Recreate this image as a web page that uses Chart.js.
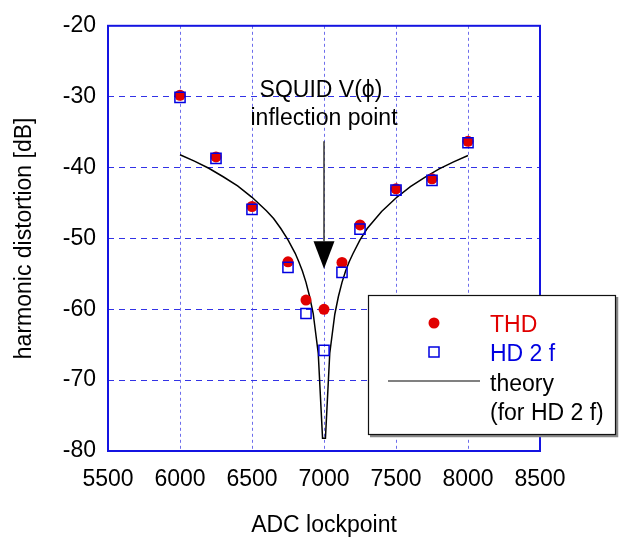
<!DOCTYPE html>
<html>
<head>
<meta charset="utf-8">
<script src="https://cdn.jsdelivr.net/npm/chart.js@4"></script>
<style>
    html, body { margin: 0; padding: 0; background: #fff; }
</style>
</head>
<body>
<canvas id="chart" width="619" height="544"></canvas>
<script>
// measured points
const adcLockpoint = [6000, 6250, 6500, 6750, 6875, 7000, 7125, 7250, 7500, 7750, 8000];
const thdValues = [-29.8, -38.5, -45.5, -53.3, -58.7, -60.0, -53.4, -48.1, -43.0, -41.6, -36.3];
const hd2fValues = [-30.1, -38.7, -45.9, -54.1, -60.6, -65.8, -54.8, -48.7, -43.2, -41.8, -36.5];

// theory curve (for HD 2 f)
const theoryX = [6000, 6100, 6200, 6300, 6400, 6500, 6600, 6650, 6700, 6750, 6800, 6825, 6850, 6875, 6900, 6925, 6960, 6990,
                 7010, 7040, 7075, 7100, 7125, 7150, 7175, 7200, 7250, 7300, 7400, 7500, 7600, 7700, 7800, 7900, 8000];
const theoryY = [-38.2, -39.1, -40.1, -41.3, -42.6, -44.2, -46.1, -47.2, -48.6, -50.2, -52.1, -53.3, -54.6, -56.2, -58.2, -60.6, -66.2, -78.2,
                 -78.2, -66.2, -60.7, -58.2, -56.2, -54.6, -53.3, -52.2, -50.2, -48.6, -46.2, -44.3, -42.7, -41.4, -40.2, -39.2, -38.3];

const xTicks = [5500, 6000, 6500, 7000, 7500, 8000, 8500];
const yTicks = [-80, -70, -60, -50, -40, -30, -20];

const FONT = 'Arial, "Liberation Sans", Helvetica, sans-serif';
const RED = 'rgb(225, 0, 0)';
const BLUE = 'rgb(0, 0, 225)';

const toPoints = (xs, ys) => xs.map((x, i) => ({ x: x, y: ys[i] }));

// frame, arrow note and boxed legend
const squidNotes = {
    id: 'squidNotes',
    afterDraw(chart) {
        const { ctx, chartArea: a, scales: { x, y } } = chart;
        ctx.save();

        // plot frame
        ctx.strokeStyle = 'rgb(20, 20, 225)';
        ctx.lineWidth = 2;
        ctx.strokeRect(a.left, a.top, a.right - a.left, a.bottom - a.top);

        // inflection point note
        const cx = x.getPixelForValue(7000);
        ctx.fillStyle = '#000';
        ctx.font = '23px ' + FONT;
        ctx.textAlign = 'center';
        ctx.textBaseline = 'alphabetic';
        ctx.fillText('SQUID V(\u03D5)', cx - 3, 97);
        ctx.fillText('inflection point', cx, 125);

        const lineTop = y.getPixelForValue(-36.3);
        const headTop = y.getPixelForValue(-50.4);
        const headTip = y.getPixelForValue(-54.3);
        ctx.strokeStyle = '#333';
        ctx.lineWidth = 1.5;
        ctx.beginPath();
        ctx.moveTo(cx, lineTop);
        ctx.lineTo(cx, headTop);
        ctx.stroke();
        ctx.beginPath();
        ctx.moveTo(cx - 10.5, headTop);
        ctx.lineTo(cx + 10.5, headTop);
        ctx.lineTo(cx, headTip);
        ctx.closePath();
        ctx.fill();

        // legend box
        const bx = 368, by = 295, bw = 248, bh = 140;
        ctx.fillStyle = '#fff';
        ctx.fillRect(bx, by, bw, bh);
        ctx.strokeStyle = '#888';
        ctx.lineWidth = 2.5;
        ctx.beginPath();
        ctx.moveTo(bx + 2, by + bh + 1);
        ctx.lineTo(bx + bw + 1, by + bh + 1);
        ctx.lineTo(bx + bw + 1, by + 2);
        ctx.stroke();
        ctx.strokeStyle = '#111';
        ctx.lineWidth = 1.2;
        ctx.strokeRect(bx + 0.5, by + 0.5, bw - 1, bh - 1);

        ctx.fillStyle = RED;
        ctx.beginPath();
        ctx.arc(434, 323, 5.5, 0, Math.PI * 2);
        ctx.fill();

        ctx.strokeStyle = BLUE;
        ctx.lineWidth = 1.5;
        ctx.strokeRect(429, 347, 10, 10);

        ctx.strokeStyle = 'rgb(128, 128, 128)';
        ctx.lineWidth = 2;
        ctx.beginPath();
        ctx.moveTo(388, 381);
        ctx.lineTo(480, 381);
        ctx.stroke();

        ctx.textAlign = 'left';
        ctx.fillStyle = RED;
        ctx.fillText('THD', 490, 332);
        ctx.fillStyle = BLUE;
        ctx.fillText('HD 2 f', 490, 361);
        ctx.fillStyle = '#000';
        ctx.fillText('theory', 490, 391);
        ctx.fillText('(for HD 2 f)', 490, 420);

        ctx.restore();
    }
};

new Chart(document.getElementById('chart'), {
    type: 'scatter',
    data: {
        datasets: [
            {
                label: 'HD 2 f',
                data: toPoints(adcLockpoint, hd2fValues),
                pointStyle: 'rect',
                pointRadius: 7.2,
                pointBorderWidth: 1.5,
                borderColor: BLUE,
                backgroundColor: 'rgba(0,0,0,0)',
                order: 0
            },
            {
                label: 'THD',
                data: toPoints(adcLockpoint, thdValues),
                pointStyle: 'circle',
                pointRadius: 5.5,
                pointBorderWidth: 0,
                borderColor: RED,
                backgroundColor: RED,
                order: 1
            },
            {
                label: 'theory (for HD 2 f)',
                data: toPoints(theoryX, theoryY),
                showLine: true,
                pointRadius: 0,
                borderColor: '#000',
                borderWidth: 1.5,
                tension: 0,
                order: 2
            }
        ]
    },
    options: {
        responsive: false,
        animation: false,
        layout: { padding: { top: 21, right: 79, left: 0, bottom: 0 } },
        plugins: {
            legend: { display: false },
            tooltip: { enabled: false }
        },
        scales: {
            x: {
                type: 'linear',
                min: xTicks[0],
                max: xTicks[xTicks.length - 1],
                afterBuildTicks: s => { s.ticks = xTicks.map(v => ({ value: v })); },
                afterFit: s => { s.height = 93; },
                grid: { color: 'rgba(60, 60, 230, 0.75)', lineWidth: 1, drawTicks: false },
                border: { display: false, dash: [3, 3] },
                ticks: {
                    color: '#000',
                    font: { family: FONT, size: 23 },
                    padding: 15,
                    maxRotation: 0,
                    callback: v => String(v)
                },
                title: {
                    display: true,
                    text: 'ADC lockpoint',
                    color: '#000',
                    font: { family: FONT, size: 23 },
                    padding: { top: 0, bottom: 5 }
                }
            },
            y: {
                type: 'linear',
                min: yTicks[0],
                max: yTicks[yTicks.length - 1],
                afterBuildTicks: s => { s.ticks = yTicks.map(v => ({ value: v })); },
                afterFit: s => { s.width = 108; },
                grid: { color: 'rgb(50, 50, 230)', lineWidth: 1, drawTicks: false },
                border: { display: false, dash: [6, 5] },
                ticks: {
                    color: '#000',
                    font: { family: FONT, size: 23 },
                    padding: 12,
                    callback: v => String(v)
                },
                title: {
                    display: true,
                    text: 'harmonic distortion [dB]',
                    color: '#000',
                    font: { family: FONT, size: 23 },
                    padding: { top: 11, bottom: 0 }
                }
            }
        }
    },
    plugins: [squidNotes]
});
</script>
</body>
</html>
